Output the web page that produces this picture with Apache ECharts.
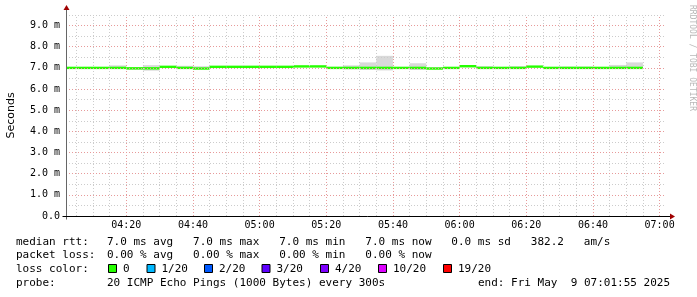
<!DOCTYPE html>
<html><head><meta charset="utf-8">
<script src="https://cdn.jsdelivr.net/npm/echarts@6/dist/echarts.min.js"></script>
<style>html,body{margin:0;padding:0;background:#fff}#c{width:697px;height:297px}</style>
</head><body><div id="c"></div>
<script>
// ---- data (5-minute RRD steps, value in ms) ----
const segStarts = ['04:00','04:05','04:10','04:15','04:20','04:25','04:30','04:35','04:40','04:45',
  '04:50','04:55','05:00','05:05','05:10','05:15','05:20','05:25','05:30','05:35',
  '05:40','05:45','05:50','05:55','06:00','06:05','06:10','06:15','06:20','06:25',
  '06:30','06:35','06:40','06:45','06:50'];
const segMinutes = 5;
const median = [7.00,7.00,7.00,7.00,6.98,6.98,7.05,7.00,6.97,7.05,
  7.05,7.05,7.05,7.05,7.07,7.07,7.00,7.00,7.00,7.00,
  7.00,7.00,6.97,7.00,7.08,7.00,7.00,7.00,7.06,7.00,
  7.00,7.00,7.00,7.00,7.00];
const smokeLo = [6.99,6.99,6.99,6.99,6.91,6.87,7.00,6.98,6.95,7.02,
  7.02,7.02,7.02,7.02,7.04,7.04,6.99,6.93,6.90,6.88,
  6.98,6.90,6.95,6.99,7.03,6.99,6.99,6.99,7.03,6.99,
  6.99,6.99,6.99,6.99,6.99];
const smokeHi = [7.04,7.04,7.04,7.12,7.02,7.13,7.07,7.10,7.08,7.08,
  7.08,7.08,7.08,7.08,7.09,7.09,7.05,7.12,7.26,7.57,
  7.04,7.22,7.03,7.04,7.12,7.08,7.03,7.08,7.08,7.04,
  7.06,7.06,7.03,7.14,7.26];

// ---- axes / ticks ----
const axisStart = '04:01:55';
const axisEnd = '07:01:55';
const xMajorTicks = ['04:20','04:40','05:00','05:20','05:40','06:00','06:20','06:40','07:00'];
const xMinorTicks = ['04:05','04:10','04:15','04:25','04:30','04:35','04:45','04:50','04:55',
  '05:05','05:10','05:15','05:25','05:30','05:35','05:45','05:50','05:55',
  '06:05','06:10','06:15','06:25','06:30','06:35','06:45','06:50','06:55'];
const yMax = 9.5;
const yLabelTicks = [0,1,2,3,4,5,6,7,8,9];
const yMajorGrid = [1,2,3,4,5,6,7,8,9];
const yMinorGrid = [0.5,1.5,2.5,3.5,4.5,5.5,6.5,7.5,8.5,9.5];

// ---- legend ----
const lossLabels = ['0','1/20','2/20','3/20','4/20','10/20','19/20'];
const lossColors = ['#26ff00','#00b8ff','#0059ff','#5e00ff','#7e00ff','#dd00ff','#ff0000'];
const rowHeads = ['median rtt:','packet loss:','loss color:','probe:'];
const rttText = '7.0 ms avg   7.0 ms max   7.0 ms min   7.0 ms now   0.0 ms sd   382.2   am/s';
const lossText = '0.00 % avg   0.00 % max   0.00 % min   0.00 % now';
const probeText = '20 ICMP Echo Pings (1000 Bytes) every 300s';
const endText = 'end: Fri May  9 07:01:55 2025';
const watermark = 'RRDTOOL / TOBI OETIKER';

function tmin(s){const p=s.split(':').map(Number);return p[0]*60+p[1]+(p[2]||0)/60;}
function fmt(m){const h=Math.floor(m/60+1e-9),mm=Math.round(m-h*60);return String(h).padStart(2,'0')+':'+String(mm).padStart(2,'0');}

const segData = segStarts.map((s,i)=>[tmin(s), tmin(s)+segMinutes, smokeLo[i], smokeHi[i], median[i]]);

const MONO = 'DejaVu Sans Mono';
const chart = echarts.init(document.getElementById('c'), null, {renderer:'canvas'});

function gridLines(){
  const ml = [];
  xMinorTicks.forEach(t=>ml.push({xAxis:tmin(t), lineStyle:{color:'#cccccc',type:[1,2],width:1}}));
  yMinorGrid.forEach(v=>ml.push({yAxis:v, lineStyle:{color:'#cccccc',type:[1,2],width:1}}));
  xMajorTicks.forEach(t=>ml.push({xAxis:tmin(t), lineStyle:{color:'#e79a9a',type:[1,2],width:1}}));
  yMajorGrid.forEach(v=>ml.push({yAxis:v, lineStyle:{color:'#e79a9a',type:[1,2],width:1}}));
  return ml;
}

const option = {
  animation:false,
  backgroundColor:'#ffffff',
  grid:{left:66, top:15, width:600, height:201, containLabel:false, outerBoundsMode:'none'},
  xAxis:{type:'value', min:tmin(axisStart), max:tmin(axisEnd),
    axisLine:{show:false}, axisTick:{show:false}, splitLine:{show:false},
    axisLabel:{customValues:xMajorTicks.map(tmin), formatter:v=>fmt(v), fontFamily:MONO, fontSize:10, color:'#000', margin:4}},
  yAxis:{type:'value', min:0, max:yMax,
    name:'Seconds', nameLocation:'middle', nameGap:49, nameRotate:90,
    nameTextStyle:{fontFamily:'DejaVu Sans', fontSize:11, color:'#000'},
    axisLine:{show:false}, axisTick:{show:false}, splitLine:{show:false},
    axisLabel:{customValues:yLabelTicks, formatter:v=>v===0?'0.0':v.toFixed(1)+' m', fontFamily:MONO, fontSize:10, color:'#000', margin:6}},
  series:[
    {type:'custom', name:'smoke', z:2, data:segData, clip:true,
      renderItem:(params, api)=>{
        const a = api.coord([api.value(0), api.value(3)]);
        const b = api.coord([api.value(1), api.value(2)]);
        const cs = params.coordSys;
        const shape = echarts.graphic.clipRectByRect({x:a[0],y:a[1],width:b[0]-a[0],height:b[1]-a[1]},{x:cs.x,y:cs.y,width:cs.width,height:cs.height});
        return shape ? {type:'rect', shape, style:{fill:'#d9d9d9'}} : null;
      }},
    {type:'custom', name:'median', z:3, data:segData, clip:true,
      renderItem:(params, api)=>{
        const a = api.coord([api.value(0), api.value(4)]);
        const b = api.coord([api.value(1), api.value(4)]);
        const cs = params.coordSys;
        const x1 = Math.max(a[0], cs.x), x2 = Math.min(b[0], cs.x+cs.width);
        if (x2 <= x1) return null;
        return {type:'rect', shape:{x:x1, y:a[1]-1.2, width:x2-x1, height:2.4}, style:{fill:lossColors[0]}};
      }},
    {type:'line', name:'grid', z:5, data:[], silent:true,
      markLine:{silent:true, symbol:['none','none'], label:{show:false}, emphasis:{disabled:true}, animation:false, data:gridLines()}}
  ]
};
chart.setOption(option);

// axis lines & arrows, positioned through the chart's own scales
const o = chart.convertToPixel({gridIndex:0}, [tmin(axisStart), 0]);
const xe = chart.convertToPixel({gridIndex:0}, [tmin(axisEnd), 0]);
const ye = chart.convertToPixel({gridIndex:0}, [tmin(axisStart), yMax]);
const ox = Math.round(o[0])+0.5, oy = Math.round(o[1])+0.5;
const gfx = [
  {type:'line', shape:{x1:ox, y1:oy+3, x2:ox, y2:ye[1]-6}, style:{stroke:'#666', lineWidth:1}, z:10},
  {type:'line', shape:{x1:ox-4, y1:oy, x2:xe[0]+6, y2:oy}, style:{stroke:'#000', lineWidth:1}, z:10},
  {type:'polygon', shape:{points:[[ox,ye[1]-10],[ox-3,ye[1]-5],[ox+3,ye[1]-5]]}, style:{fill:'#a00000'}, z:11},
  {type:'polygon', shape:{points:[[xe[0]+9,oy],[xe[0]+4,oy-3],[xe[0]+4,oy+3]]}, style:{fill:'#a00000'}, z:11},
  {type:'text', x:692, y:5, rotation:-Math.PI/2, style:{text:watermark, fill:'#b8b8b8', font:'8px '+MONO, textAlign:'left', textVerticalAlign:'middle'}, z:11}
];
const rowY = [241.7, 255.3, 269, 282.7];
rowHeads.forEach((h,i)=>gfx.push({type:'text', x:16, y:rowY[i], style:{text:h, fill:'#000', font:'11px '+MONO, textVerticalAlign:'middle'}}));
gfx.push({type:'text', x:107, y:rowY[0], style:{text:rttText, fill:'#000', font:'11px '+MONO, textVerticalAlign:'middle'}});
gfx.push({type:'text', x:107, y:rowY[1], style:{text:lossText, fill:'#000', font:'11px '+MONO, textVerticalAlign:'middle'}});
gfx.push({type:'text', x:107, y:rowY[3], style:{text:probeText, fill:'#000', font:'11px '+MONO, textVerticalAlign:'middle'}});
gfx.push({type:'text', x:478, y:rowY[3], style:{text:endText, fill:'#000', font:'11px '+MONO, textVerticalAlign:'middle'}});
const boxX = [108, 146.5, 204, 261.5, 320, 378, 443];
lossLabels.forEach((l,i)=>{
  gfx.push({type:'rect', shape:{x:boxX[i]+0.5, y:rowY[2]-4.5, width:8, height:8}, style:{fill:lossColors[i], stroke:'#000', lineWidth:1}});
  gfx.push({type:'text', x:boxX[i]+15, y:rowY[2], style:{text:l, fill:'#000', font:'11px '+MONO, textVerticalAlign:'middle'}});
});
chart.setOption({graphic:{elements:gfx}});
</script></body></html>
